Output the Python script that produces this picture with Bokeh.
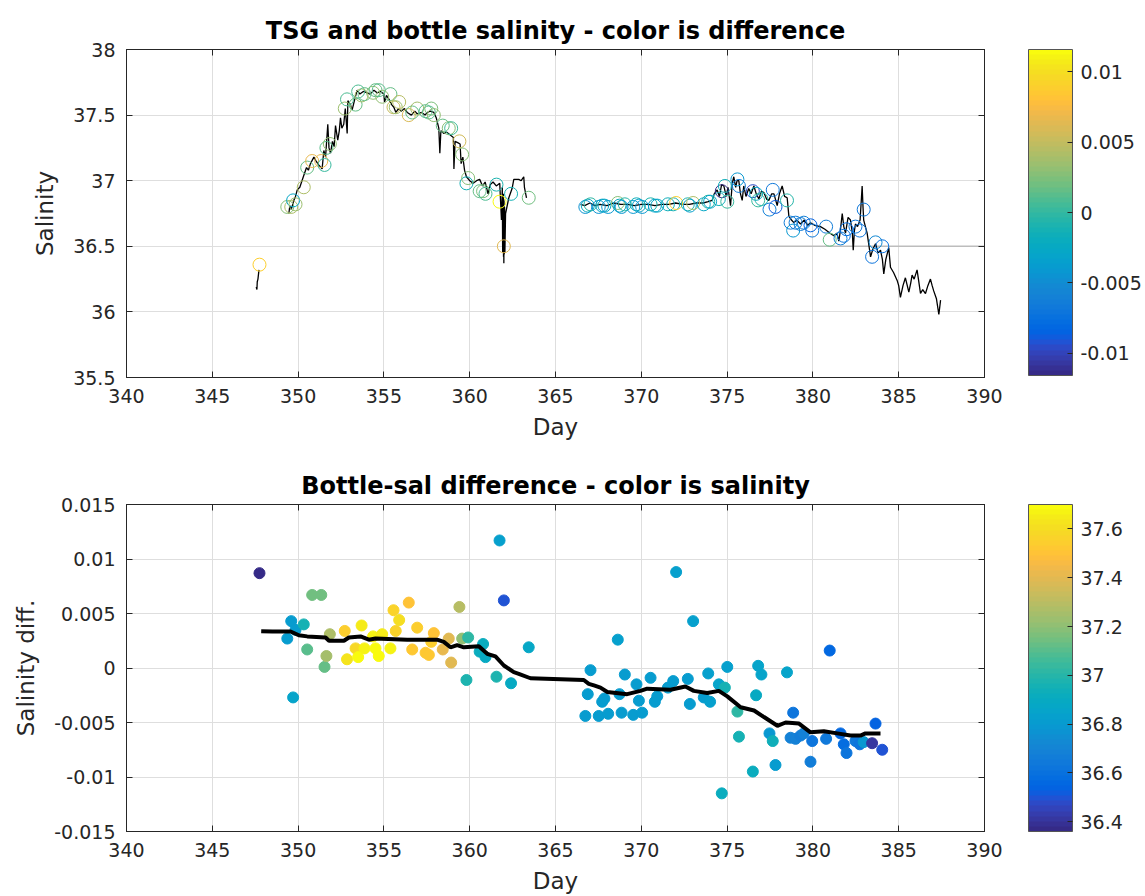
import math
from bokeh.plotting import figure
from bokeh.models import (ColumnDataSource, LinearColorMapper, ColorBar, FixedTicker,
                          CustomJSTickFormatter, LinearAxis, Range1d)
from bokeh.layouts import column
from bokeh.embed import file_html
from bokeh.resources import INLINE

NaN = float("nan")

# ---------------- data ----------------
# TSG salinity trace (day, salinity); NaN marks gaps
tsg_day = [347.56, 347.60, 347.62, 347.66, 347.72, NaN,
           349.46, 349.52, 349.60, 349.75, 349.85, 349.95, 350.10, 350.33, 350.49, 350.60,
           350.72, 350.92, 351.05, 351.20, 351.40, 351.50, 351.60, 351.73, 351.80, 351.89,
           352.00, 352.10, 352.18, 352.31, 352.40, 352.47, 352.55, 352.66, 352.75, 352.86,
           352.90, 353.05, 353.15, 353.30, 353.44, 353.60, 353.80, 354.03, 354.20, 354.42,
           354.60, 354.80, 355.00, 355.04, 355.15, 355.30, 355.45, 355.58, 355.70, 355.85,
           356.00, 356.20, 356.36, 356.60, 356.80, 356.94, 357.20, 357.40, 357.52, 357.70,
           357.91, 358.05, 358.20, 358.26, 358.32, 358.50, 358.66, 358.85, 359.05, 359.08,
           359.15, 359.30, 359.44, 359.50, 359.60, 359.70, 359.81, 360.00, 360.20, 360.40,
           360.58, 360.75, 360.90, 361.07, 361.20, 361.36, 361.55, 361.75, 361.85, 361.90,
           361.92, 361.93, 361.95, 361.96, 361.97, 361.98, 361.99, 362.00, 362.02, 362.03,
           362.05, 362.09, 362.28, 362.47, 362.57, 362.86,
           363.00, 363.15, 363.19, 363.31, NaN,
           366.46, 366.70, 367.00, 367.30, 367.60, 368.00, 368.40, 368.80, 369.20, 369.60,
           370.00, 370.40, 370.80, 371.20, 371.60, 372.00, 372.40, 372.80, 373.20, 373.60,
           373.90, 374.13, 374.25, 374.42, 374.55, 374.68, 374.81, 374.95, 375.05, 375.20,
           375.30, 375.39, 375.50, 375.58, 375.68, 375.78, 375.88, 375.97, 376.10, 376.26,
           376.40, 376.56, 376.70, 376.85, 377.00, 377.14, 377.30, 377.43, 377.60, 377.73,
           377.92, 378.05, 378.21, 378.35, 378.50, 378.60, 378.75, 378.89, 379.05, 379.28,
           379.50, 379.70, 379.86, 380.10, 380.44, 380.70, 381.00, 381.22, 381.40, 381.51,
           381.60, 381.71, 381.80, 381.90, 382.05, 382.19, 382.30, 382.35, 382.42, 382.48,
           382.60, 382.75, 382.82, 382.87, 382.92, 382.96, 383.06, 383.16, 383.25, 383.36,
           383.50, 383.65, 383.80, 383.94, 384.05, 384.13, 384.25, 384.42, 384.52, 384.70,
           384.91, 385.00, 385.10, 385.25, 385.39, 385.50, 385.59, 385.70, 385.78, 385.90,
           386.07, 386.15, 386.27, 386.40, 386.56, 386.70, 386.85, 386.95, 387.04, 387.20,
           387.34, 387.44]
tsg_sal = [36.19, 36.17, 36.23, 36.25, 36.32, NaN,
           36.75, 36.81, 36.78, 36.85, 36.88, 36.93, 36.95, 37.04, 37.10, 37.08,
           37.13, 37.18, 37.15, 37.12, 37.09, 37.23, 37.18, 37.43, 37.25, 37.21,
           37.30, 37.26, 37.42, 37.31, 37.38, 37.48, 37.40, 37.43, 37.55, 37.36,
           37.61, 37.58, 37.54, 37.62, 37.69, 37.66, 37.68, 37.67, 37.66, 37.69,
           37.67, 37.68, 37.66, 37.60, 37.65, 37.62, 37.58, 37.56, 37.52, 37.55,
           37.53, 37.55, 37.52, 37.50, 37.53, 37.51, 37.52, 37.50, 37.52, 37.53,
           37.52, 37.48, 37.40, 37.21, 37.38, 37.36, 37.37, 37.35, 37.33, 37.09,
           37.30, 37.29, 37.28, 37.13, 37.18, 37.08, 37.03, 37.00, 36.98, 37.00,
           37.01, 36.96, 36.99, 36.90, 36.97, 36.99, 36.96, 36.98, 36.70, 36.95,
           36.45, 36.88, 36.54, 36.90, 36.42, 36.86, 36.37, 36.85, 36.44, 36.80,
           36.45, 36.75, 36.87, 36.94, 37.01, 37.01,
           37.00, 37.03, 36.95, 36.87, NaN,
           36.82, 36.81, 36.83, 36.81, 36.82, 36.81, 36.83, 36.82, 36.82, 36.81,
           36.82, 36.82, 36.81, 36.82, 36.82, 36.83, 36.82, 36.82, 36.83, 36.83,
           36.84, 36.85, 36.90, 36.93, 36.88, 36.97, 36.96, 36.88, 36.95, 36.81,
           36.98, 37.03, 36.95, 37.00, 37.00, 36.90, 36.85, 36.96, 36.88, 36.94,
           36.90, 36.96, 36.90, 36.86, 36.92, 36.91, 36.86, 36.85, 36.90, 36.90,
           36.81, 36.90, 36.96, 36.88, 36.87, 36.73, 36.70, 36.68, 36.70, 36.67,
           36.70, 36.66, 36.68, 36.66, 36.65, 36.63, 36.60, 36.58, 36.60, 36.54,
           36.62, 36.75, 36.65, 36.60, 36.72, 36.70, 36.60, 36.47, 36.62, 36.67,
           36.65, 36.70, 36.85, 36.96, 36.80, 36.70, 36.65, 36.60, 36.52, 36.42,
           36.48, 36.52, 36.45, 36.47, 36.40, 36.29, 36.40, 36.49, 36.34, 36.30,
           36.24, 36.20, 36.11, 36.20, 36.26, 36.20, 36.15, 36.22, 36.28, 36.25,
           36.32, 36.25, 36.14, 36.17, 36.14, 36.20, 36.25, 36.20, 36.16, 36.10,
           35.98, 36.09]

# bottle samples: day, bottle salinity, bottle - TSG difference
bot_day = [347.75, 349.37, 349.60, 349.71, 349.85, 350.33, 350.53, 350.82, 351.35, 351.54,
           351.65, 351.85, 352.72, 352.85, 353.35, 353.50, 353.70, 353.87, 354.37, 354.51,
           354.70, 354.90, 355.38, 355.56, 355.69, 355.89, 356.45, 356.65, 356.94, 357.43,
           357.62, 357.76, 357.91, 358.43, 358.78, 358.92, 359.40, 359.56, 359.81, 359.91,
           360.58, 360.78, 360.92, 361.56, 361.74, 361.99, 362.41, 363.44,
           366.74, 366.88, 367.04, 367.52, 367.72, 367.85, 368.07, 368.63, 368.73, 368.85,
           369.04, 369.53, 369.72, 369.86, 370.05, 370.54, 370.79, 370.93, 371.55, 371.86,
           372.03, 372.71, 372.83, 373.02, 373.64, 373.90, 374.01, 374.52, 374.69, 374.87,
           375.01, 375.60, 375.69, 376.50, 376.69, 376.81, 377.00, 377.47, 377.66, 377.82,
           378.49, 378.70, 378.85, 378.99, 379.28, 379.47, 379.86, 379.96, 380.77, 380.98,
           381.61, 381.80, 381.96, 382.48, 382.73, 382.96, 383.45, 383.65, 384.04]
bot_sal = [36.36, 36.80, 36.80, 36.85, 36.82, 36.95, 37.10, 37.15, 37.15, 37.12,
           37.25, 37.28, 37.55, 37.62, 37.58, 37.68, 37.65, 37.66, 37.67, 37.69,
           37.69, 37.64, 37.66, 37.56, 37.56, 37.60, 37.50, 37.52, 37.55, 37.53,
           37.52, 37.55, 37.50, 37.42, 37.40, 37.40, 37.30, 37.20, 36.98, 37.02,
           36.92, 36.92, 36.90, 36.97, 36.84, 36.50, 36.90, 36.87,
           36.80, 36.81, 36.82, 36.80, 36.81, 36.81, 36.80, 36.83, 36.81, 36.80,
           36.82, 36.80, 36.82, 36.81, 36.80, 36.82, 36.81, 36.81, 36.82, 36.82,
           36.83, 36.82, 36.81, 36.83, 36.82, 36.84, 36.84, 36.86, 36.92, 36.96,
           36.84, 37.01, 36.96, 36.92, 36.90, 36.85, 36.86, 36.78, 36.93, 36.80,
           36.85, 36.68, 36.62, 36.68, 36.67, 36.68, 36.66, 36.62, 36.65, 36.55,
           36.56, 36.58, 36.63, 36.65, 36.62, 36.78, 36.42, 36.53, 36.50]
bot_diff = [0.0087, 0.0027, 0.0043, -0.0027, 0.0035, 0.0040, 0.0017, 0.0067, 0.0067, 0.0001,
            0.0011, 0.0031, 0.0034, 0.0008, 0.0018, 0.0010, 0.0039, 0.0018, 0.0029, 0.0018,
            0.0011, 0.0031, 0.0018, 0.0053, 0.0034, 0.0044, 0.0060, 0.0017, 0.0037, 0.0014,
            0.0012, 0.0024, 0.0032, 0.0017, 0.0027, 0.0005, 0.0056, 0.0027, -0.0011, 0.0028,
            0.0015, 0.0022, 0.0010, -0.0008, 0.0117, 0.0062, -0.0014, 0.0019,
            -0.0044, -0.0024, -0.0002, -0.0044, -0.0031, -0.0028, -0.0042, 0.0026, -0.0024, -0.0041,
            -0.0006, -0.0043, -0.0015, -0.0030, -0.0041, -0.0009, -0.0031, -0.0026, -0.0018, -0.0012,
            0.0088, -0.0010, -0.0033, 0.0043, -0.0027, -0.0005, -0.0031, -0.0015, -0.0115, -0.0018,
            0.0001, -0.0040, -0.0063, -0.0095, -0.0025, 0.0002, -0.0006, -0.0060, -0.0067, -0.0089,
            -0.0004, -0.0064, -0.0041, -0.0065, -0.0062, -0.0060, -0.0086, -0.0067, -0.0065, 0.0016,
            -0.0060, -0.0070, -0.0078, -0.0067, -0.0070, -0.0068, -0.0069, -0.0051, -0.0075]

# running mean of the difference
rm_day = [347.85, 348.50, 349.56, 350.04, 350.53, 351.60, 351.80, 352.67, 352.96, 353.64,
          354.12, 354.51, 356.36, 358.10, 358.49, 358.88, 359.27, 359.66, 360.53, 361.02,
          361.50, 361.99, 362.57, 362.86, 363.54, 366.65, 366.94, 367.24, 367.62, 368.02,
          369.18, 369.95, 370.34, 371.70, 372.57, 373.06, 373.84, 374.52, 375.01, 375.79,
          376.57, 377.15, 377.93, 378.41, 379.19, 379.86, 380.64, 381.42, 382.19, 382.77,
          383.06, 383.94]
rm_diff = [0.00338, 0.00335, 0.00335, 0.0030, 0.0029, 0.0028, 0.0025, 0.0025, 0.0028, 0.0029,
           0.0026, 0.0027, 0.0026, 0.0026, 0.0024, 0.0019, 0.0021, 0.0019, 0.0020, 0.0013,
           0.00106, 0.00023, -0.00038, -0.00053, -0.00094, -0.0011, -0.00145, -0.0016, -0.0018, -0.0022,
           -0.0024, -0.0021, -0.0019, -0.0020, -0.0017, -0.0021, -0.0023, -0.0021, -0.0026, -0.0036,
           -0.0039, -0.0045, -0.0053, -0.0050, -0.0051, -0.0059, -0.0058, -0.0060, -0.0062, -0.0062,
           -0.0060, -0.0060]

ref_day = [377.5, 390.0]
ref_sal = [36.5, 36.5]

x_ticks = [340, 345, 350, 355, 360, 365, 370, 375, 380, 385, 390]
sal_ticks = [35.5, 36, 36.5, 37, 37.5, 38]
diff_ticks = [-0.015, -0.01, -0.005, 0, 0.005, 0.01, 0.015]
cb_diff_ticks = [-0.01, -0.005, 0, 0.005, 0.01]
cb_sal_ticks = [36.4, 36.6, 36.8, 37, 37.2, 37.4, 37.6]

# ---------------- styling ----------------
PARULA_RGB = [
    (0.2081, 0.1663, 0.5292), (0.2116, 0.1898, 0.5777), (0.2123, 0.2138, 0.6270), (0.2081, 0.2386, 0.6771),
    (0.1959, 0.2645, 0.7279), (0.1707, 0.2919, 0.7792), (0.1253, 0.3242, 0.8303), (0.0591, 0.3598, 0.8683),
    (0.0117, 0.3875, 0.8820), (0.0060, 0.4086, 0.8828), (0.0165, 0.4266, 0.8786), (0.0329, 0.4430, 0.8720),
    (0.0498, 0.4586, 0.8641), (0.0629, 0.4737, 0.8554), (0.0723, 0.4887, 0.8467), (0.0779, 0.5040, 0.8384),
    (0.0793, 0.5200, 0.8312), (0.0749, 0.5375, 0.8263), (0.0641, 0.5570, 0.8240), (0.0488, 0.5772, 0.8228),
    (0.0343, 0.5966, 0.8199), (0.0265, 0.6137, 0.8135), (0.0239, 0.6287, 0.8038), (0.0231, 0.6418, 0.7913),
    (0.0228, 0.6535, 0.7768), (0.0267, 0.6642, 0.7607), (0.0384, 0.6743, 0.7436), (0.0590, 0.6838, 0.7254),
    (0.0843, 0.6928, 0.7062), (0.1133, 0.7015, 0.6859), (0.1453, 0.7098, 0.6646), (0.1801, 0.7177, 0.6424),
    (0.2178, 0.7250, 0.6193), (0.2586, 0.7317, 0.5954), (0.3022, 0.7376, 0.5712), (0.3482, 0.7424, 0.5473),
    (0.3953, 0.7459, 0.5244), (0.4420, 0.7481, 0.5033), (0.4871, 0.7491, 0.4840), (0.5300, 0.7491, 0.4661),
    (0.5709, 0.7485, 0.4494), (0.6099, 0.7473, 0.4337), (0.6473, 0.7456, 0.4188), (0.6834, 0.7435, 0.4044),
    (0.7184, 0.7411, 0.3905), (0.7525, 0.7384, 0.3768), (0.7858, 0.7356, 0.3633), (0.8185, 0.7327, 0.3498),
    (0.8507, 0.7299, 0.3360), (0.8824, 0.7274, 0.3217), (0.9139, 0.7258, 0.3063), (0.9450, 0.7261, 0.2886),
    (0.9739, 0.7314, 0.2666), (0.9938, 0.7455, 0.2403), (0.9990, 0.7653, 0.2164), (0.9955, 0.7861, 0.1967),
    (0.9880, 0.8066, 0.1794), (0.9789, 0.8271, 0.1633), (0.9697, 0.8481, 0.1475), (0.9626, 0.8705, 0.1309),
    (0.9589, 0.8949, 0.1132), (0.9598, 0.9218, 0.0948), (0.9661, 0.9514, 0.0755), (0.9763, 0.9831, 0.0538)]
PARULA = ["#%02x%02x%02x" % tuple(int(round(c * 255)) for c in rgb) for rgb in PARULA_RGB]

FONT = "DejaVu Sans"
FS = "19px"
LFS = "23px"
TXT = "#262626"
GRID = "#dedede"

diff_map = LinearColorMapper(palette=PARULA, low=-0.0116, high=0.0116)
sal_map = LinearColorMapper(palette=PARULA, low=36.36, high=37.70)

fmt_code = "return String(Math.round(tick*1e6)/1e6);"
blank_code = "return '';"


def style_axis(ax, ticks, show_labels=True):
    ax.ticker = FixedTicker(ticks=ticks)
    ax.formatter = CustomJSTickFormatter(code=fmt_code if show_labels else blank_code)
    ax.major_label_text_font = FONT
    ax.major_label_text_font_size = FS
    ax.major_label_text_color = TXT
    ax.axis_label_text_font = FONT
    ax.axis_label_text_font_size = LFS
    ax.axis_label_text_font_style = "normal"
    ax.axis_label_text_color = TXT
    ax.axis_line_color = TXT
    ax.major_tick_line_color = TXT
    ax.major_tick_in = 6
    ax.major_tick_out = 0
    ax.minor_tick_line_color = None


def make_fig(title, ylabel, yr, yticks, fh, top, bottom):
    p = figure(frame_width=858, frame_height=fh, x_range=Range1d(340, 390),
               y_range=Range1d(*yr), output_backend="svg", toolbar_location=None,
               title=title, min_border_left=126, min_border_top=top,
               min_border_bottom=bottom, min_border_right=161)
    p.title.align = "center"
    p.title.text_font = FONT
    p.title.text_font_size = "24px"
    p.title.text_font_style = "bold"
    p.title.text_color = "#000000"
    p.xaxis.axis_label = "Day"
    p.yaxis.axis_label = ylabel
    style_axis(p.xaxis[0], x_ticks)
    style_axis(p.yaxis[0], yticks)
    p.xaxis.major_label_standoff = 11
    p.yaxis.major_label_standoff = 11
    p.xaxis.axis_label_standoff = 8
    p.yaxis.axis_label_standoff = 12
    top_ax = LinearAxis()
    style_axis(top_ax, x_ticks, show_labels=False)
    p.add_layout(top_ax, "above")
    right_ax = LinearAxis()
    style_axis(right_ax, yticks, show_labels=False)
    p.add_layout(right_ax, "right")
    p.xgrid.ticker = FixedTicker(ticks=x_ticks)
    p.ygrid.ticker = FixedTicker(ticks=yticks)
    p.grid.grid_line_color = GRID
    p.grid.grid_line_width = 1
    p.outline_line_color = TXT
    p.background_fill_color = "white"
    p.border_fill_color = "white"
    return p


def make_cbar(mapper, ticks, height, y0):
    cb = ColorBar(color_mapper=mapper, width=44, height=height, padding=0, margin=0,
                  location=(902, y0),
                  ticker=FixedTicker(ticks=ticks),
                  formatter=CustomJSTickFormatter(code=fmt_code),
                  major_label_text_font=FONT, major_label_text_font_size=FS,
                  major_label_text_color=TXT, label_standoff=8,
                  major_tick_in=5, major_tick_out=0, major_tick_line_color=TXT,
                  minor_tick_line_color=None,
                  bar_line_color="#555555", bar_line_width=1,
                  border_line_color=None, background_fill_alpha=0)
    return cb


# ---- top panel ----
p1 = make_fig("TSG and bottle salinity - color is difference", "Salinity",
              (35.5, 38), sal_ticks, 328, 49, 84)
p1.line(ref_day, ref_sal, line_color="#bdbdbd", line_width=1.5)
p1.line(tsg_day, tsg_sal, line_color="black", line_width=1.3)
src = ColumnDataSource(dict(day=bot_day, sal=bot_sal, diff=bot_diff))
p1.scatter("day", "sal", source=src, marker="circle", size=13, fill_color=None,
           line_color={"field": "diff", "transform": diff_map}, line_width=1)
p1.add_layout(make_cbar(diff_map, cb_diff_ticks, 326, 2), "center")

# ---- bottom panel ----
p2 = make_fig("Bottle-sal difference - color is salinity", "Salinity diff.",
              (-0.015, 0.015), diff_ticks, 327, 43, 60)
p2.scatter("day", "diff", source=src, marker="circle", size=11,
           fill_color={"field": "sal", "transform": sal_map},
           line_color={"field": "sal", "transform": sal_map}, line_width=1)
p2.line(rm_day, rm_diff, line_color="black", line_width=4)
p2.add_layout(make_cbar(sal_map, cb_sal_ticks, 327, 0), "center")

layout = column(p1, p2, spacing=0)
open("out.html", "w").write(file_html(layout, INLINE))
